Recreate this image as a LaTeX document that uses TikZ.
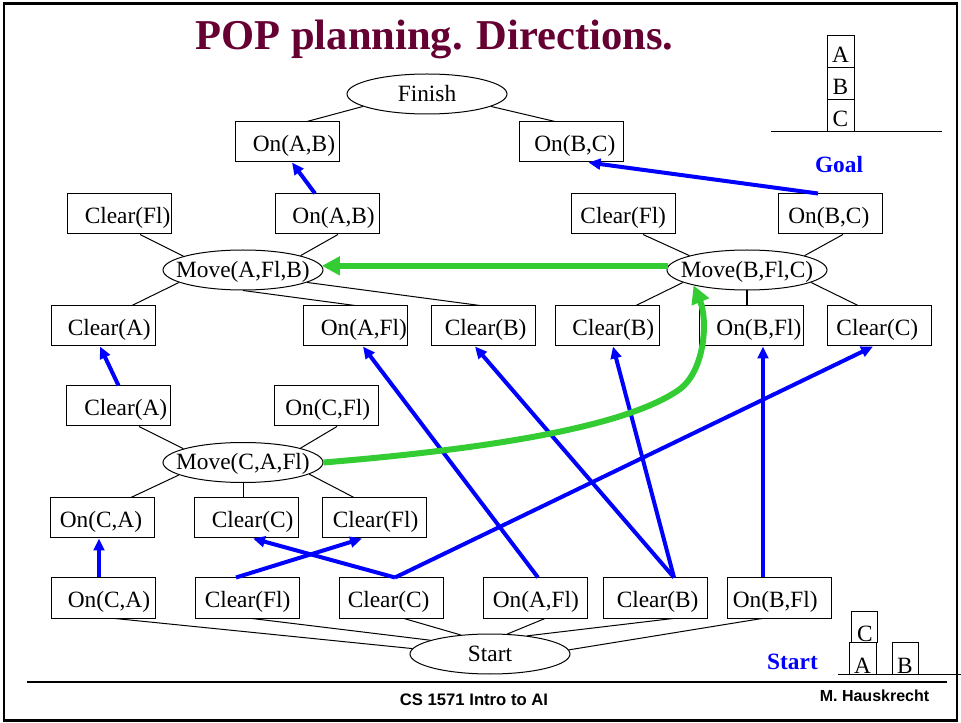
\documentclass[tikz,border=0pt]{standalone}
\usepackage{fontspec}
\setmainfont{Liberation Serif}
\newfontfamily\footfont{Liberation Sans}
\usetikzlibrary{arrows.meta,shapes.geometric}
\definecolor{titlered}{RGB}{102,0,51}
\definecolor{linkblue}{RGB}{0,0,255}
\definecolor{ordergreen}{RGB}{51,204,51}

\tikzset{
  cond/.style={draw, line width=0.75pt, minimum width=78pt, minimum height=30pt, inner sep=0pt},
  condtext/.style={anchor=base west, inner sep=0pt, font=\fontsize{17.5}{20}\selectfont},
  act/.style={draw, ellipse, line width=0.75pt, minimum width=120pt, minimum height=30pt, inner sep=0pt},
  acttext/.style={inner sep=0pt, font=\fontsize{17.5}{20}\selectfont, text height=11.25pt, text depth=0pt},
  blocktext/.style={anchor=base, inner sep=0pt, font=\fontsize{17.5}{20}\selectfont},
  tie/.style={line width=0.75pt},
  causal/.style={draw=linkblue, line width=3pt, -{Triangle[length=9pt,width=8pt]}},
  order/.style={draw=ordergreen, line width=4.5pt, -{Triangle[length=13.5pt,width=13.5pt]}},
  bluetitle/.style={anchor=base, inner sep=0pt, text=linkblue, font=\bfseries\fontsize{17.5}{20}\selectfont},
  foot/.style={anchor=base, inner sep=0pt, font=\footfont\bfseries\fontsize{12.5}{14}\selectfont},
}

% condition box: name, centre x, centre y, text inset, text
\newcommand\condbox[5]{%
  \node[cond] (#1) at (#2,#3) {};
  \node[condtext] (#1-l) at ([shift={(#4,9.5)}]#1.west) {#5};}
% action ellipse of fixed size: name, centre x, centre y, text
\newcommand\actnode[4]{%
  \node[act] (#1) at (#2,#3) {};
  \node[acttext] (#1-l) at (#1.center) {#4};}

\begin{document}
\begin{tikzpicture}[x=0.75pt,y=-0.75pt]
\useasboundingbox (0,0) rectangle (961,723);

% frame and footer rule
\draw[line width=2pt] (4,3.5) rectangle (957,720.5);
\draw[line width=2pt] (27,682) -- (947,682);

\node[anchor=base, inner sep=0pt, text=titlered, font=\bfseries\fontsize{31.9}{36}\selectfont]
  (title) at (434.5,50) {POP planning. Directions.};

% actions
\actnode{finish}{427}{94}{Finish}
\actnode{mab}{243}{270}{Move(A,Fl,B)}
\actnode{mbc}{747}{270}{Move(B,Fl,C)}
\actnode{mca}{243}{462.5}{Move(C,A,Fl)}
\actnode{start}{490}{654}{Start}

% conditions
\condbox{fonab}{287}{142}{18}{On(A,B)}
\condbox{fonbc}{571.5}{142}{15}{On(B,C)}

\condbox{pclrfla}{119}{214}{18}{Clear(Fl)}
\condbox{ponab}{327}{214}{17.7}{On(A,B)}
\condbox{pclrflb}{623}{214}{9.7}{Clear(Fl)}
\condbox{ponbc}{830.5}{214}{10}{On(B,C)}

\condbox{pclra}{103}{326}{17}{Clear(A)}
\condbox{ponafl}{355}{326}{18}{On(A,Fl)}
\condbox{pclrba}{483}{326}{14}{Clear(B)}
\condbox{pclrbb}{607}{326}{17.7}{Clear(B)}
\condbox{ponbfl}{751}{326}{17.7}{On(B,Fl)}
\condbox{pclrc}{879}{326}{9.7}{Clear(C)}

\condbox{qclra}{118.5}{406}{18}{Clear(A)}
\condbox{qoncfl}{326.5}{406}{11}{On(C,Fl)}

\condbox{qonca}{102}{518}{10}{On(C,A)}
\condbox{qclrc}{246}{518}{18}{Clear(C)}
\condbox{qclrfl}{374}{518}{11}{Clear(Fl)}

\condbox{sonca}{103}{598}{17}{On(C,A)}
\condbox{sclrfl}{247}{598}{10}{Clear(Fl)}
\condbox{sclrc}{391}{598}{9}{Clear(C)}
\condbox{sonafl}{535}{598}{10}{On(A,Fl)}
\condbox{sclrb}{655}{598}{14}{Clear(B)}
\condbox{sonbfl}{779}{598}{6}{On(B,Fl)}

% links between actions and their conditions
\draw[tie] ([shift={(20,0)}]fonab.north) -- (finish.-169);
\draw[tie] ([shift={(-16.5,0)}]fonbc.north) -- (finish.-11.3);

\draw[tie] ([shift={(21,0)}]pclrfla.south) -- (mab.167.4);
\draw[tie] ([shift={(11,0)}]ponab.south) -- (mab.14.5);
\draw[tie] (mab.191.7) -- ([shift={(29,0)}]pclra.north);
\draw[tie] (mab.-90) -- (ponafl.north);
\draw[tie] (mab.-11) -- ([shift={(-3,0)}]pclrba.north);

\draw[tie] ([shift={(20,0)}]pclrflb.south) -- (mbc.166.7);
\draw[tie] ([shift={(12.5,0)}]ponbc.south) -- (mbc.14.5);
\draw[tie] (mbc.191) -- ([shift={(29,0)}]pclrbb.north);
\draw[line width=1.5pt] (mbc.-90) -- ([shift={(-4,0)}]ponbfl.north);
\draw[tie] (mbc.-11.7) -- ([shift={(-21,0)}]pclrc.north);

\draw[tie] ([shift={(20.5,0)}]qclra.south) -- (mca.167);
\draw[tie] ([shift={(10.5,0)}]qoncfl.south) -- (mca.14.5);
\draw[tie] (mca.-169.5) -- ([shift={(29,0)}]qonca.north);
\draw[tie] (mca.-90) -- ([shift={(-3,0)}]qclrc.north);
\draw[tie] (mca.-10.6) -- ([shift={(-20,0)}]qclrfl.north);

\draw[tie] ([shift={(12,0)}]sonca.south) -- (start.176.3);
\draw[tie] ([shift={(5,0)}]sclrfl.south) -- (start.167.4);
\draw[tie] ([shift={(13,0)}]sclrc.south) -- (start.147.2);
\draw[tie] ([shift={(10,0)}]sonafl.south) -- (start.49.4);
\draw[tie] ([shift={(18,0)}]sclrb.south) -- (start.26.6);
\draw[tie] ([shift={(-17,0)}]sonbfl.south) -- (start.3.5);

% causal links
\draw[causal] ([shift={(-12,0)}]ponab.north) -- ([shift={(5,0)}]fonab.south);
\draw[causal] ([shift={(-12.5,0)}]ponbc.north) -- ([shift={(17,0)}]fonbc.south);
\draw[causal] (qclra.north) -- ([shift={(-3,0)}]pclra.south);
\draw[causal] ([shift={(-4,0)}]sonca.north) -- ([shift={(-3,0)}]qonca.south);
\draw[causal] ([shift={(-11,0)}]sclrfl.north) -- ([shift={(-12,0)}]qclrfl.south);
\draw[causal] ([shift={(4,0)}]sclrc.north) -- ([shift={(7,0)}]qclrc.south);
\draw[causal] ([shift={(4,0)}]sclrc.north) -- ([shift={(-6,0)}]pclrc.south);
\draw[causal] ([shift={(3,0)}]sonafl.north) -- ([shift={(8,0)}]ponafl.south);
\draw[causal] ([shift={(19,0)}]sclrb.north) -- ([shift={(-8,0)}]pclrba.south);
\draw[causal] ([shift={(19,0)}]sclrb.north) -- ([shift={(6,0)}]pclrbb.south);
\draw[causal] ([shift={(-16,0)}]sonbfl.north) -- ([shift={(12,0)}]ponbfl.south);

% ordering constraints
\draw[order] (mbc.177) -- (mab.3);
\draw[order] (mca.east) .. controls (500,448) and (630,425) .. (680,389)
  .. controls (705,370) and (708,320) .. (mbc.-164.7);

% goal state
\draw[tie] (827,36) rectangle (854,68);
\draw[tie] (827,68) rectangle (854,100);
\draw[tie] (827,100) rectangle (854,132);
\node[blocktext] (ga) at (840.5,62.5) {A};
\node[blocktext] (gb) at (840.5,94.5) {B};
\node[blocktext] (gc) at (840.5,126.5) {C};
\draw[tie] (771,132) -- (942,132);
\node[bluetitle] (goal) at (839,173) {Goal};

% start state
\draw[tie] (851,611) rectangle (877,642);
\draw[tie] (849,642) rectangle (876,674);
\draw[tie] (892,642) rectangle (918,674);
\node[blocktext] (sc) at (865,641) {C};
\node[blocktext] (sa) at (862.5,673) {A};
\node[blocktext] (sb) at (905,673) {B};
\draw[tie] (838,674) -- (961,674);
\node[bluetitle] (startlbl) at (792.5,669) {Start};

% footer
\node[foot] (course) at (474,705.7) {CS 1571 Intro to AI};
\node[foot, font=\footfont\bfseries\fontsize{12}{14}\selectfont] (author) at (874.5,701.7) {M. Hauskrecht};
\end{tikzpicture}
\end{document}
